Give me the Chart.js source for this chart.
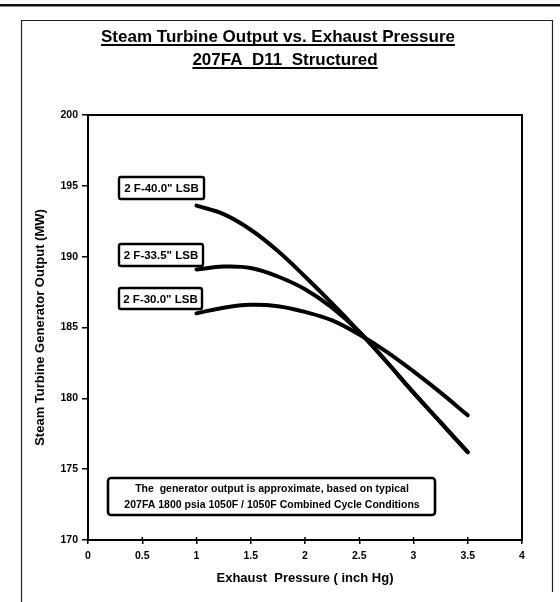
<!DOCTYPE html>
<html>
<head>
<meta charset="utf-8">
<script src="https://cdn.jsdelivr.net/npm/chart.js@4/dist/chart.umd.min.js"></script>
<style>
  html,body{margin:0;padding:0;background:#fff;}
  #wrap{width:560px;height:602px;position:relative;}
</style>
</head>
<body>
<div id="wrap"><canvas id="c" width="560" height="602"></canvas></div>
<script>
// ---- Data ----
const pressures = [1, 1.25, 1.5, 1.75, 2, 2.25, 2.5, 2.75, 3, 3.25, 3.5];
const lsb40  = [193.6, 193.0, 191.9, 190.4, 188.6, 186.7, 184.7, 182.6, 180.4, 178.3, 176.2];
const lsb335 = [189.1, 189.3, 189.2, 188.6, 187.7, 186.4, 184.7, 182.6, 180.4, 178.3, 176.2];
const lsb30  = [186.0, 186.4, 186.6, 186.5, 186.1, 185.5, 184.5, 183.3, 181.9, 180.4, 178.8];
const seriesNames = ['2 F-40.0" LSB', '2 F-33.5" LSB', '2 F-30.0" LSB'];
const xTicks = [0, 0.5, 1, 1.5, 2, 2.5, 3, 3.5, 4];
const yTicks = [170, 175, 180, 185, 190, 195, 200];
const titleLines = ['Steam Turbine Output vs. Exhaust Pressure', '207FA  D11  Structured'];
const noteLines = ['The  generator output is approximate, based on typical',
                   '207FA 1800 psia 1050F / 1050F Combined Cycle Conditions'];
const xTitle = 'Exhaust  Pressure ( inch Hg)';
const yTitle = 'Steam Turbine Generator Output (MW)';

const FONT = '"Liberation Sans", Arial, sans-serif';

function toPts(ys){ return pressures.map((x,i)=>({x:x, y:ys[i]})); }

const lineStyle = {
  borderColor:'#000', borderWidth:4, pointRadius:0, fill:false,
  tension:0.4, borderCapStyle:'round', borderJoinStyle:'round'
};

// ---- Decoration plugin ----
const deco = {
  id:'deco',
  beforeDraw(chart){
    const ctx = chart.ctx;
    ctx.save();
    ctx.fillStyle = '#fff';
    ctx.fillRect(0,0,chart.width,chart.height);
    // top heavy rule
    ctx.fillStyle = '#111';
    ctx.fillRect(0,4,560,2.5);
    // outer frame
    ctx.strokeStyle = '#222';
    ctx.lineWidth = 1.2;
    ctx.beginPath();
    ctx.moveTo(21.5,602); ctx.lineTo(21.5,20.5); ctx.lineTo(552.5,20.5); ctx.lineTo(552.5,592);
    ctx.stroke();
    ctx.restore();
  },
  afterDraw(chart){
    const ctx = chart.ctx;
    const a = chart.chartArea;
    ctx.save();
    // plot frame
    ctx.strokeStyle = '#000';
    ctx.lineWidth = 2;
    ctx.strokeRect(a.left, a.top, a.right-a.left, a.bottom-a.top);
    // inner x tick marks
    const xs = chart.scales.x;
    ctx.lineWidth = 1.5;
    xTicks.forEach(v=>{
      const px = xs.getPixelForValue(v);
      ctx.beginPath(); ctx.moveTo(px, a.bottom); ctx.lineTo(px, a.bottom-3); ctx.stroke();
    });
    // title
    ctx.fillStyle = '#000';
    ctx.textAlign = 'center';
    ctx.textBaseline = 'alphabetic';
    ctx.font = 'bold 17px ' + FONT;
    const tpos = [[278,42],[285,65]];
    titleLines.forEach((t,i)=>{
      const [x,y] = tpos[i];
      ctx.fillText(t, x, y);
      const w = ctx.measureText(t).width;
      ctx.fillRect(x-w/2, y+2, w, 2);
    });
    // series labels
    const boxes = [[119,177,85,22],[119,244,84,22],[119,288,83,21]];
    ctx.font = 'bold 11.5px ' + FONT;
    ctx.textBaseline = 'middle';
    ctx.textAlign = 'center';
    boxes.forEach((b,i)=>{
      const [x,y,w,h] = b;
      ctx.fillStyle = '#fff';
      ctx.beginPath(); ctx.roundRect(x,y,w,h,2); ctx.fill();
      ctx.lineWidth = 2.4; ctx.strokeStyle = '#000'; ctx.stroke();
      ctx.fillStyle = '#000';
      ctx.fillText(seriesNames[i], x+w/2, y+h/2+1);
    });
    // note box
    ctx.fillStyle = '#fff';
    ctx.beginPath(); ctx.roundRect(108,478,327,37,3); ctx.fill();
    ctx.lineWidth = 2.6; ctx.strokeStyle = '#000'; ctx.stroke();
    ctx.fillStyle = '#000';
    ctx.font = 'bold 10.5px ' + FONT;
    ctx.fillText(noteLines[0], 272, 489);
    ctx.fillText(noteLines[1], 272, 505);
    ctx.restore();
  }
};

new Chart(document.getElementById('c'), {
  type:'line',
  data:{
    datasets:[
      Object.assign({label:seriesNames[0], data:toPts(lsb40)}, lineStyle),
      Object.assign({label:seriesNames[1], data:toPts(lsb335)}, lineStyle),
      Object.assign({label:seriesNames[2], data:toPts(lsb30)}, lineStyle)
    ]
  },
  options:{
    responsive:false, animation:false,
    layout:{padding:{left:20, right:38, top:115, bottom:12}},
    plugins:{legend:{display:false}, tooltip:{enabled:false}, title:{display:false}},
    scales:{
      x:{
        type:'linear', min:0, max:4,
        afterBuildTicks(s){ s.ticks = xTicks.map(v=>({value:v})); },
        afterFit(s){ s.height = 50; },
        grid:{drawOnChartArea:false, drawTicks:true, tickLength:4, color:'#000', lineWidth:1.5},
        border:{display:true, color:'#000', width:2},
        ticks:{color:'#000', padding:6, maxRotation:0, font:{family:FONT, size:10.5, weight:'bold'},
               callback:(v)=>String(v)},
        title:{display:true, text:xTitle, color:'#000', padding:{top:0,bottom:4},
               font:{family:FONT, size:13, weight:'bold'}}
      },
      y:{
        type:'linear', min:170, max:200,
        afterBuildTicks(s){ s.ticks = yTicks.map(v=>({value:v})); },
        afterFit(s){ s.width = 68; },
        grid:{drawOnChartArea:false, drawTicks:true, tickLength:6, color:'#000', lineWidth:1.5},
        border:{display:true, color:'#000', width:2},
        ticks:{color:'#000', padding:4, font:{family:FONT, size:10.5, weight:'bold'},
               callback:(v)=>String(v)},
        title:{display:true, text:yTitle, color:'#000', padding:{top:13,bottom:0},
               font:{family:FONT, size:13, weight:'bold'}}
      }
    }
  },
  plugins:[deco]
});
</script>
</body>
</html>
